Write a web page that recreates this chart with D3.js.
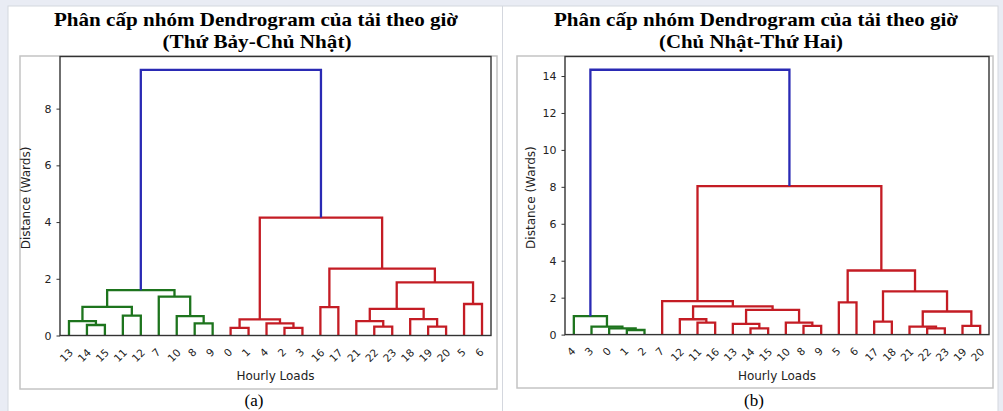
<!DOCTYPE html>
<html>
<head>
<meta charset="utf-8">
<script src="https://cdn.jsdelivr.net/npm/d3@7"></script>
<style>
  body { margin: 0; background: #e9ecf4; }
  svg { display: block; }
</style>
</head>
<body>
<svg width="1003" height="411"></svg>
<script>
// leaves in the order the dendrogram shows them
const leavesA = ['13','14','15','11','12','7','10','8','9','0','1','4','2','3','16','17','21','22','23','18','19','20','5','6'];
const leavesB = ['4','3','0','1','2','7','12','11','16','13','14','15','10','8','9','5','6','17','18','21','22','23','19','20'];

// linkage: [child a, child b, height]; children < 24 are leaves, else 24 + link index
const linkA = [
  [9, 10, 0.27], [12, 13, 0.27], [17, 18, 0.31], [20, 21, 0.31],
  [1, 2, 0.37], [11, 25, 0.43], [7, 8, 0.43], [0, 28, 0.51],
  [16, 26, 0.51], [24, 29, 0.57], [19, 27, 0.58], [6, 30, 0.68],
  [3, 4, 0.70], [32, 34, 0.94], [31, 36, 1.01], [14, 15, 1.00],
  [22, 23, 1.11], [5, 35, 1.37], [38, 41, 1.60], [37, 40, 1.87],
  [39, 43, 2.36], [33, 44, 4.16], [42, 45, 9.37]
];
const colA = ['r','r','r','r','g','r','g','g','r','r','r','g','g','r','g','r','r','g','g','r','r','r','b'];

const linkB = [
  [3, 4, 0.25], [2, 24, 0.34], [1, 25, 0.43], [0, 26, 1.00],
  [10, 11, 0.34], [9, 28, 0.58], [13, 14, 0.47], [12, 30, 0.65],
  [29, 31, 1.34], [7, 8, 0.65], [6, 33, 0.83], [34, 32, 1.53],
  [5, 35, 1.81], [20, 21, 0.34], [19, 37, 0.43], [22, 23, 0.47],
  [38, 39, 1.25], [17, 18, 0.70], [41, 40, 2.34], [15, 16, 1.75],
  [43, 42, 3.47], [36, 44, 8.04], [27, 45, 14.34]
];
const colB = ['g','g','g','g','r','r','r','r','r','r','r','r','r','r','r','r','r','r','r','r','r','r','b'];

const ticksA = [0, 2, 4, 6, 8];
const ticksB = [0, 2, 4, 6, 8, 10, 12, 14];

const title1 = 'Phân cấp nhóm Dendrogram của tải theo giờ';
const subA = '(Thứ Bảy-Chủ Nhật)';
const subB = '(Chủ Nhật-Thứ Hai)';

const palette = {g: '#1d741d', r: '#c41c24', b: '#2a2ab4'};

const svg = d3.select('svg');

// page cells
svg.append('rect').attr('x', 8).attr('y', 6).attr('width', 990).attr('height', 410)
  .attr('fill', '#fff').attr('stroke', '#d4d7de');
svg.append('line').attr('x1', 502.5).attr('x2', 502.5).attr('y1', 6).attr('y2', 411)
  .attr('stroke', '#d4d7de');

function panel(svg, {cx, cx2, subW, box, plot, leaves, link, col, ticks, sub, tag}) {
  const g = svg.append('g');

  g.append('text').attr('x', cx).attr('y', 26)
    .attr('text-anchor', 'middle')
    .style('font-family', 'Liberation Serif').style('font-weight', 'bold').style('font-size', '19.5px')
    .attr('textLength', 404).attr('lengthAdjust', 'spacingAndGlyphs')
    .text(title1);
  g.append('text').attr('x', cx2).attr('y', 48)
    .attr('text-anchor', 'middle')
    .style('font-family', 'Liberation Serif').style('font-weight', 'bold').style('font-size', '19.5px')
    .attr('textLength', subW).attr('lengthAdjust', 'spacingAndGlyphs')
    .text(sub);

  // image frame
  g.append('rect').attr('x', box.x1).attr('y', box.y1)
    .attr('width', box.x2 - box.x1).attr('height', box.y2 - box.y1)
    .attr('fill', '#fff').attr('stroke', '#c4c4c4').attr('stroke-width', 1.5);

  g.append('text').attr('x', cx - 2).attr('y', 406)
    .attr('text-anchor', 'middle')
    .style('font-family', 'Liberation Serif').style('font-size', '17px')
    .text(tag);

  const n = leaves.length;
  const maxH = d3.max(link, d => d[2]);
  const x = d3.scalePoint().domain(d3.range(n)).range([plot.x1, plot.x2]).padding(0.5);
  const y = d3.scaleLinear().domain([0, maxH * 1.05]).range([plot.y0, plot.y1]);

  // node positions
  const pos = d3.range(n).map(i => ({x: x(i), h: 0}));
  link.forEach(([a, b, h]) => pos.push({x: (pos[a].x + pos[b].x) / 2, h}));

  g.append('g').selectAll('path').data(link).join('path')
    .attr('d', ([a, b, h]) => {
      const pa = pos[a], pb = pos[b];
      return `M${pa.x},${y(pa.h)}V${y(h)}H${pb.x}V${y(pb.h)}`;
    })
    .attr('fill', 'none')
    .attr('stroke', (d, i) => palette[col[i]])
    .attr('stroke-width', 2.3);

  // axes
  const ya = g.append('g').attr('transform', `translate(${plot.x1},0)`)
    .call(d3.axisLeft(y).tickValues(ticks).tickSize(3.5).tickPadding(5).tickFormat(d3.format('d')));
  ya.select('.domain').remove();
  ya.selectAll('text').style('font-family', 'DejaVu Sans').style('font-size', '11px').attr('fill', '#222');
  ya.selectAll('line').attr('stroke', '#333');

  const xa = g.append('g').attr('transform', `translate(0,${plot.y0})`)
    .call(d3.axisBottom(x).tickSize(0).tickFormat(i => leaves[i]));
  xa.select('.domain').remove();
  xa.selectAll('text')
    .style('font-family', 'DejaVu Sans').style('font-size', '10.5px').attr('fill', '#222')
    .attr('text-anchor', 'middle')
    .attr('y', 0).attr('dy', '0.35em')
    .attr('transform', d => `translate(-3,${leaves[d].length > 1 ? 20 : 17}) rotate(-45)`);

  // frame of the axes
  g.append('rect').attr('x', plot.x1).attr('y', plot.y1)
    .attr('width', plot.x2 - plot.x1).attr('height', plot.y0 - plot.y1)
    .attr('fill', 'none').attr('stroke', '#333').attr('stroke-width', 1.4);

  g.append('text')
    .attr('transform', `translate(${plot.x1 - 30},${(plot.y0 + plot.y1) / 2 + 2}) rotate(-90)`)
    .attr('text-anchor', 'middle')
    .style('font-family', 'DejaVu Sans').style('font-size', '12px').attr('fill', '#222')
    .text('Distance (Wards)');
  g.append('text')
    .attr('x', (plot.x1 + plot.x2) / 2).attr('y', 380)
    .attr('text-anchor', 'middle')
    .style('font-family', 'DejaVu Sans').style('font-size', '12px').attr('fill', '#222')
    .text('Hourly Loads');
}

panel(svg, {
  cx: 256, cx2: 257, subW: 189, box: {x1: 20, y1: 56, x2: 497, y2: 389},
  plot: {x1: 60, x2: 491, y0: 335.5, y1: 56.5},
  leaves: leavesA, link: linkA, col: colA, ticks: ticksA, sub: subA, tag: '(a)'
});
panel(svg, {
  cx: 756, cx2: 751, subW: 184, box: {x1: 517, y1: 56, x2: 993, y2: 388},
  plot: {x1: 565, x2: 989, y0: 334.6, y1: 56.5},
  leaves: leavesB, link: linkB, col: colB, ticks: ticksB, sub: subB, tag: '(b)'
});
</script>
</body>
</html>
